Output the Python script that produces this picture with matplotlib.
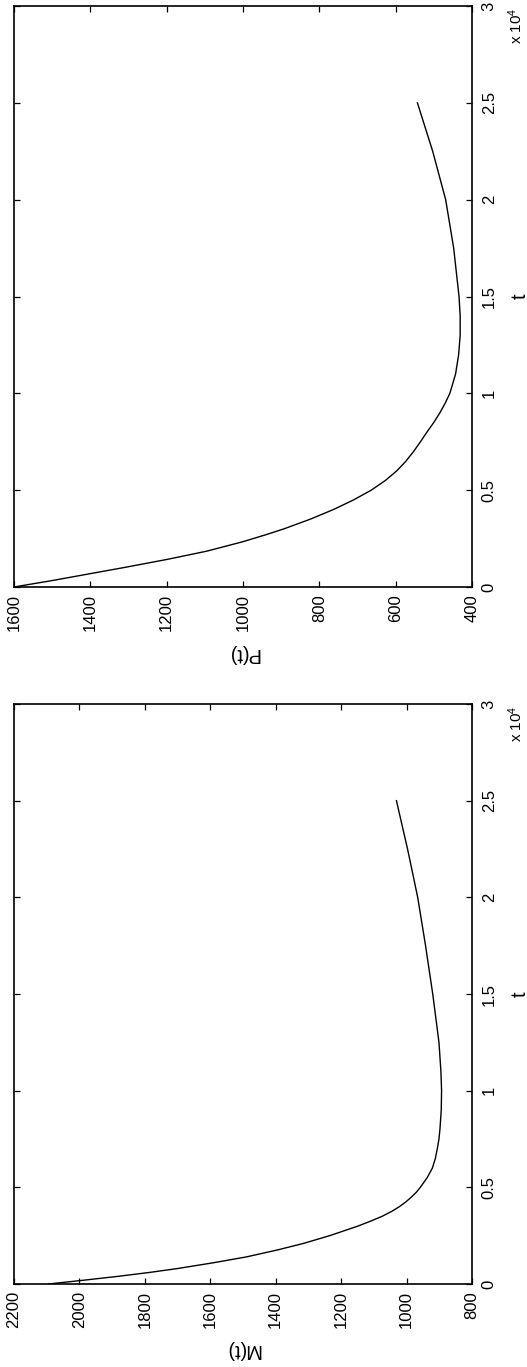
import matplotlib
matplotlib.use("Agg")
import matplotlib.pyplot as plt

plt.rcParams['font.family'] = ['Liberation Sans', 'DejaVu Sans']
plt.rcParams['mathtext.default'] = 'regular'

# ---- data ----
t_M = [0, 200, 400, 600, 800, 1100, 1400, 1760, 2100, 2500, 3000, 3250, 3500, 3750,
       4000, 4250, 4500, 4750, 5000, 5500, 6000, 6500, 7000, 7500, 8000, 9000, 10000,
       11000, 12500, 15000, 17500, 20000, 22500, 25000]
M_vals = [2095, 1985, 1880, 1785, 1700, 1590, 1490, 1395, 1315, 1235, 1148, 1110, 1075, 1046,
          1022, 1002, 985, 970, 958, 937, 921, 912, 906, 901, 898, 894, 893,
          895, 901, 920, 942, 966, 997, 1031]

t_P = [0, 350, 690, 1000, 1420, 1850, 2340, 2700, 3000, 3500, 4000, 4500, 5000, 5500, 6000,
       6500, 7000, 7500, 8000, 8500, 9000, 9500, 10000, 11000, 12000, 13000, 14000,
       15000, 17500, 20000, 22500, 25000]
P_vals = [1600, 1495, 1400, 1313, 1200, 1095, 1000, 940, 893, 824, 763, 710, 664, 627, 597,
          573, 553, 535, 518, 500, 484, 470, 458, 443, 435, 431, 431, 434, 448, 469, 503, 543]

t_ticks = [0, 5000, 10000, 15000, 20000, 25000, 30000]
t_tick_labels = ['0', '0.5', '1', '1.5', '2', '2.5', '3']
M_ticks = [800, 1000, 1200, 1400, 1600, 1800, 2000, 2200]
P_ticks = [400, 600, 800, 1000, 1200, 1400, 1600]

W, H = 527, 1367
fig = plt.figure(figsize=(W / 100, H / 100), dpi=100)

def make_axes(top_px, bottom_px):
    left_px, right_px = 14, 472
    return fig.add_axes([left_px / W, 1 - bottom_px / H,
                         (right_px - left_px) / W, (bottom_px - top_px) / H])

axP = make_axes(6, 587)
axM = make_axes(704, 1284)

panels = [
    (axP, P_vals, t_P, P_ticks, 'P(t)', (1600, 400)),
    (axM, M_vals, t_M, M_ticks, 'M(t)', (2200, 800)),
]

for ax, vals, tt, vticks, lab, vlim in panels:
    ax.plot(vals, tt, color='black', lw=1.0)
    ax.set_xlim(*vlim)
    ax.set_ylim(0, 30000)
    ax.set_xticks(vticks)
    ax.set_xticklabels([str(v) for v in vticks], rotation=90)
    ax.set_yticks(t_ticks)
    ax.set_yticklabels(t_tick_labels, rotation=90, va='center')
    for sp in ax.spines.values():
        sp.set_linewidth(1.2)
        sp.set_color('black')
    ax.tick_params(axis='both', direction='in', length=4.5, width=0.9,
                   top=True, bottom=True, left=True, right=True,
                   labelleft=False, labelright=True, labelbottom=True,
                   labelsize=12, colors='black')
    ax.tick_params(axis='x', pad=5)
    ax.tick_params(axis='y', pad=7)
    ax.set_xlabel(lab, fontsize=14.5, rotation=180)
    ax.xaxis.label.set(ha='center', va='center')
    ax.xaxis.set_label_coords(0.5, -0.1136)
    ax.yaxis.set_label_position('right')
    ax.set_ylabel('t', fontsize=14.5, rotation=90)
    ax.yaxis.label.set(ha='center', va='center')
    ax.yaxis.set_label_coords(1.1048, 0.5)
    ax.text(1.096, 0.998, r'x 10$^{4}$', transform=ax.transAxes, rotation=90,
            ha='center', va='top', fontsize=11)

fig.savefig('out.png', dpi=100, facecolor='white')
